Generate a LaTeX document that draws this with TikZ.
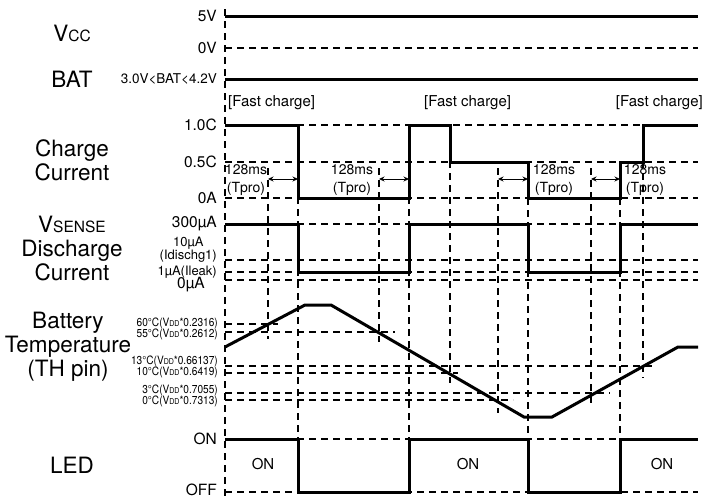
\documentclass[tikz,border=0pt]{standalone}
\usepackage{fontspec}
\usepackage{graphicx}
\setmainfont{TeX Gyre Heros}
\usetikzlibrary{arrows.meta}
\newcommand{\vdd}{V{\fontsize{8}{8}\selectfont DD}}
\newcommand{\tcond}[1]{\scalebox{0.88}[1]{#1}}

\begin{document}
\begin{tikzpicture}[x=1pt, y=-1pt,
  guide/.style = {line width=1.2pt, dash pattern=on 7pt off 5pt},
  sig/.style = {line width=3pt, line join=miter},
  dur/.style = {line width=1pt, {Stealth[length=5.5pt,width=5pt]}-{Stealth[length=5.5pt,width=5pt]}},
  lvl/.style = {anchor=east, inner sep=0pt, font=\fontsize{15.5}{16}\selectfont},
  sublvl/.style = {anchor=east, inner sep=0pt, align=center, font=\fontsize{13}{11}\selectfont},
  tlab/.style = {anchor=east, inner sep=0pt, font=\fontsize{11.5}{12}\selectfont},
  big/.style = {align=center, inner sep=0pt, font=\fontsize{22.5}{24}\selectfont},
  phase/.style = {inner sep=0pt, font=\fontsize{15}{16}\selectfont},
  tpro/.style = {inner sep=0pt, align=center, font=\fontsize{14}{18}\selectfont}]
\useasboundingbox (0,0) rectangle (718,499);

% signal names
\node[big] (vcc) at (72,33) {V{\fontsize{15.5}{15.5}\selectfont CC}};
\node[big] (bat) at (72,79) {BAT};
\node[big] (chg) at (72,160) {Charge\\Current};
\node[big] (dis) at (72,248) {V{\fontsize{15.5}{15.5}\selectfont SENSE}\\Discharge\\Current};
\node[big] (tmp) at (68,347) {Battery\\Temperature\\(TH pin)};
\node[big] (led) at (72,465) {LED};

% levels
\node[lvl] (l5v) at (217,16) {5V};
\node[lvl] (l0v) at (217,48) {0V};
\node[lvl, font=\fontsize{13.5}{14}\selectfont] (lbat) at (217,79) {3.0V<BAT<4.2V};
\node[lvl] (l10c) at (217,125) {1.0C};
\node[lvl] (l05c) at (217,162) {0.5C};
\node[lvl] (l0a) at (217,198) {0A};
\node[lvl] (l300) at (217,224) {300µA};
\node[sublvl] (l10u) at (217,250) {10µA\\(Idischg1)};
\node[sublvl] (l1u) at (217,272) {1µA(Ileak)};
\node[lvl] (l0u) at (205,285) {0µA};
\node[tlab] (t60) at (218,323.5) {\tcond{60°C(\vdd*0.2316)}};
\node[tlab] (t55) at (218,334) {\tcond{55°C(\vdd*0.2612)}};
\node[tlab] (t13) at (218,361.5) {\tcond{13°C(\vdd*0.66137)}};
\node[tlab] (t10) at (218,372) {\tcond{10°C(\vdd*0.6419)}};
\node[tlab] (t3) at (218,390.5) {\tcond{3°C(\vdd*0.7055)}};
\node[tlab] (t0) at (218,401) {\tcond{0°C(\vdd*0.7313)}};
\node[lvl] (lon) at (217,439) {ON};
\node[lvl] (loff) at (217,490) {OFF};

% guide lines
\draw[guide] (225,9) -- (225,499);
\foreach \y in {48,125,162,198,224,260,272,280,439,492}
  \draw[guide] (225,\y) -- (698,\y);
\draw[guide] (225,324) -- (278,324);
\draw[guide] (225,332) -- (395,332);
\draw[guide] (225,366) -- (655,366);
\draw[guide] (225,373) -- (458,373);
\draw[guide] (225,393) -- (610,393);
\draw[guide] (225,400) -- (513,400);
\draw[guide] (268,168) -- (268,339);
\draw[guide] (298,125) -- (298,492);
\draw[guide] (379,168) -- (379,342);
\draw[guide] (409,125) -- (409,492);
\draw[guide] (450,125) -- (450,383);
\draw[guide] (498,168) -- (498,413);
\draw[guide] (528,162) -- (528,492);
\draw[guide] (591,168) -- (591,405);
\draw[guide] (620,162) -- (620,492);
\draw[guide] (643,125) -- (643,378);

% signals
\draw[sig] (225,16) -- (698,16);
\draw[sig] (225,79) -- (698,79);
\draw[sig] (225,125) -- (298,125) -- (298,198) -- (409,198) -- (409,125) -- (450,125)
  -- (450,162) -- (528,162) -- (528,198) -- (620,198) -- (620,162) -- (643,162)
  -- (643,125) -- (698,125);
\draw[sig] (225,224) -- (298,224) -- (298,272) -- (409,272) -- (409,224) -- (528,224)
  -- (528,272) -- (620,272) -- (620,224) -- (698,224);
\draw[sig] (225,347) -- (305,305) -- (331,305) -- (524,417) -- (552,417) -- (678,347) -- (698,347);
\draw[sig] (225,439) -- (298,439) -- (298,492) -- (409,492) -- (409,439) -- (528,439)
  -- (528,492) -- (620,492) -- (620,439) -- (698,439);

% phases
\node[phase, anchor=west] (fc1) at (228,103) {[Fast charge]};
\node[phase, anchor=west] (fc2) at (424,103) {[Fast charge]};
\node[phase, anchor=east] (fc3) at (703,103) {[Fast charge]};
\node[phase] (on1) at (263,464) {ON};
\node[phase] (on2) at (468,464) {ON};
\node[phase] (on3) at (662,464) {ON};

% protection delays
\coordinate (a1) at (268,179); \coordinate (b1) at (298,179);
\coordinate (a2) at (379,179); \coordinate (b2) at (409,179);
\coordinate (a3) at (498,179); \coordinate (b3) at (528,179);
\coordinate (a4) at (591,179); \coordinate (b4) at (620,179);
\draw[dur] (a1) -- (b1);
\draw[dur] (a2) -- (b2);
\draw[dur] (a3) -- (b3);
\draw[dur] (a4) -- (b4);
\node[tpro] (p1) at (246,180) {128ms\\(Tpro)};
\node[tpro] (p2) at (352,180) {128ms\\(Tpro)};
\node[tpro] (p3) at (554,180) {128ms\\(Tpro)};
\node[tpro] (p4) at (645,180) {128ms\\(Tpro)};
\end{tikzpicture}
\end{document}
